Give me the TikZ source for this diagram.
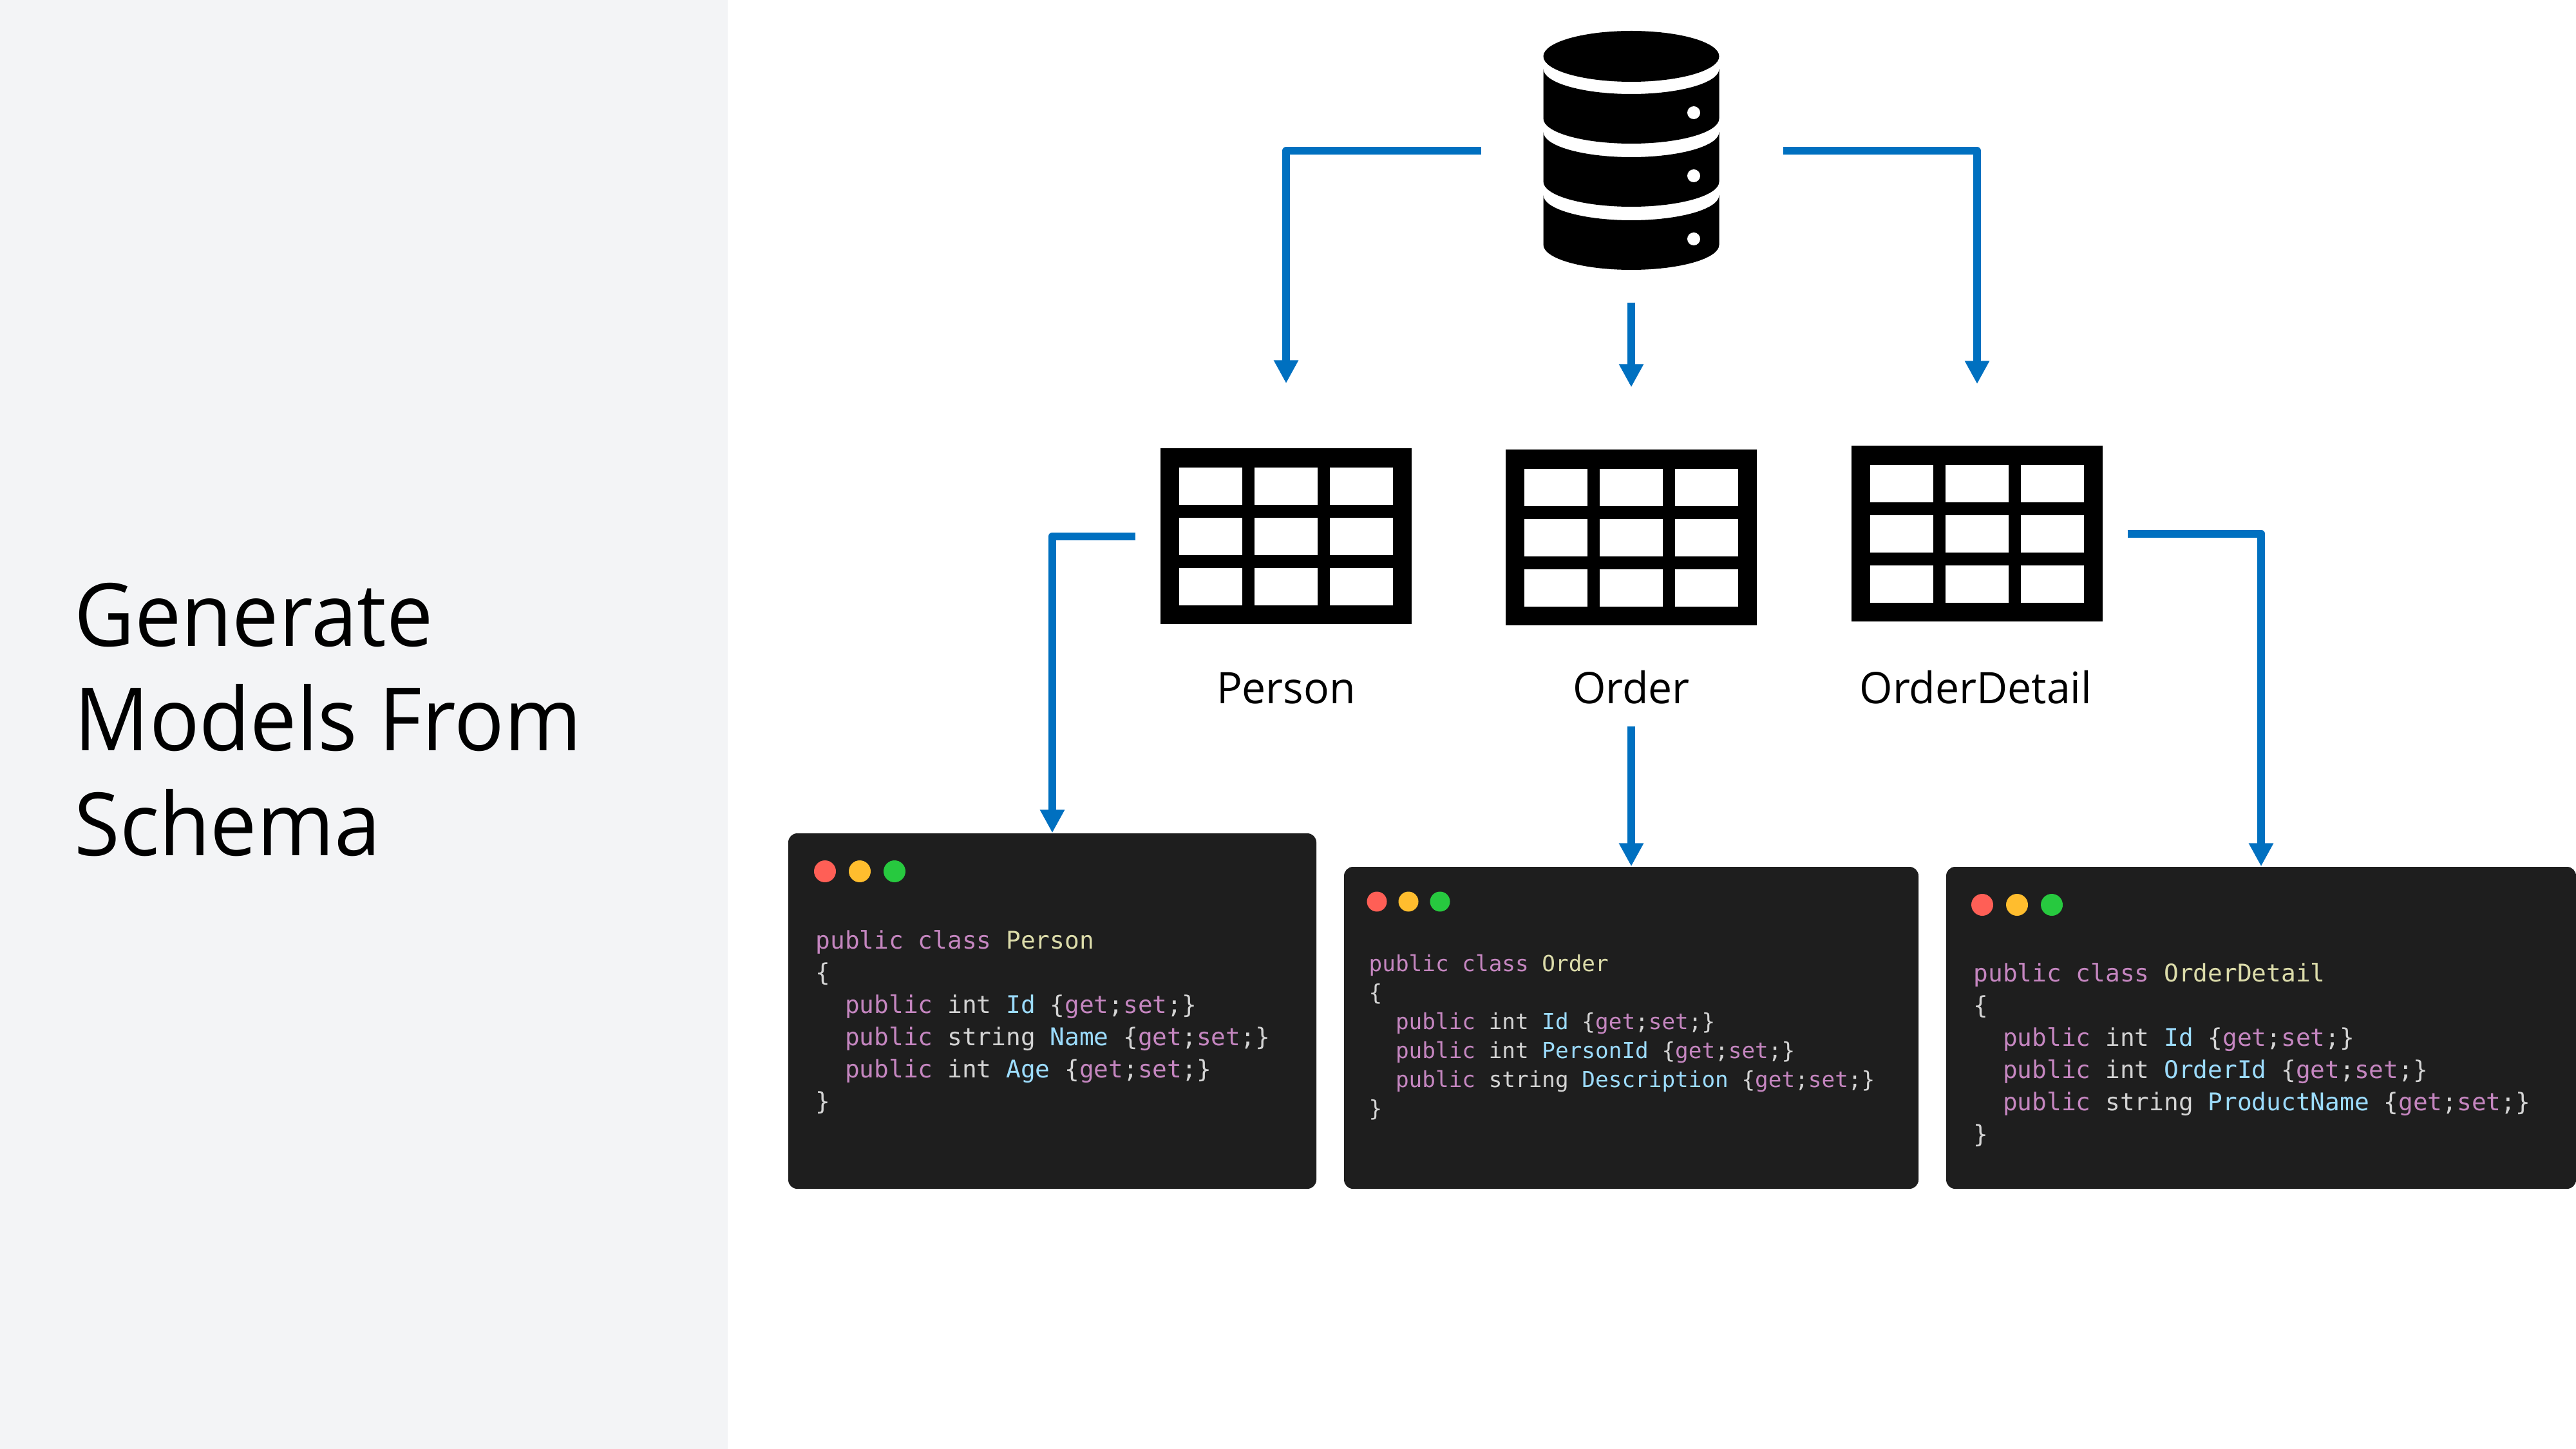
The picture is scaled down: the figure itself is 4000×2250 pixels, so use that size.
\documentclass[tikz,border=0pt]{standalone}
\usepackage{fontspec}
\setmainfont{Open Sans}
\setmonofont{DejaVu Sans Mono}
\newfontfamily\titlefont[FakeStretch=0.95]{Open Sans}
\newfontfamily\labelfont[FakeStretch=0.98]{Open Sans}
\usetikzlibrary{arrows.meta}
\definecolor{panelgray}{HTML}{F3F4F6}
\definecolor{flowblue}{HTML}{0070C0}
\definecolor{carddark}{HTML}{1E1E1E}
\definecolor{codekw}{HTML}{C586C0}
\definecolor{codeplain}{HTML}{D4D4D4}
\definecolor{codeclass}{HTML}{DCDCAA}
\definecolor{codeprop}{HTML}{9CDCFE}
\definecolor{dotred}{HTML}{FF5F56}
\definecolor{dotamber}{HTML}{FFBD2E}
\definecolor{dotgreen}{HTML}{27C93F}
\newcommand{\kw}[1]{\textcolor{codekw}{#1}}
\newcommand{\cls}[1]{\textcolor{codeclass}{#1}}
\newcommand{\prp}[1]{\textcolor{codeprop}{#1}}
\newcommand{\acc}{\{\kw{get};\kw{set};\}}
\tikzset{
  flow/.style={draw=flowblue,line width=1.2mm,line join=round,-{Triangle[length=3.6mm,width=3.6mm]}},
  tbl/.style={fill=black,inner sep=0,minimum width=39mm,minimum height=27.3mm},
  tbllabel/.style={font=\labelfont\fontsize{19.2}{23}\selectfont,anchor=base},
  card/.style={fill=carddark,rounded corners=1.4mm,inner sep=0},
  codetext/.style={anchor=north west,inner sep=0,align=left,text=codeplain},
  codebig/.style={codetext,font=\ttfamily\fontsize{10.75}{14.22}\selectfont},
  codesmall/.style={codetext,font=\ttfamily\fontsize{9.77}{12.8}\selectfont}
}
\begin{document}
\begin{tikzpicture}[x=0.1mm,y=-0.1mm]
      \useasboundingbox (0,0) rectangle (4000,2250);
      \fill [white] (0,0) rectangle (4000,2250);
      \fill [panelgray] (0,0) rectangle (1130,2250);

      \node [anchor=base west,inner sep=0,align=left,font=\titlefont\fontsize{38.6}{46.1}\selectfont]
        (title) at (115,1328) {Generate\\Models From\\Schema};

      % database
      \node [inner sep=0,minimum width=27.3mm,minimum height=37.1mm] (db) at (2533,234.5) {};
      \fill (2533,87.5) ellipse [x radius=136.5,y radius=39.5];
      \foreach \k in {0,98,196} {
        \fill (2396.5,107+\k) arc [start angle=180,end angle=0,x radius=136.5,y radius=39]
          -- (2669.5,184+\k) arc [start angle=0,end angle=180,x radius=136.5,y radius=39] -- cycle;
        \fill [white] (2630,175+\k) circle [radius=10];
      }

      % tables
      \node [tbl] (tblPerson) at (1997,832.5) {};
      \node [tbl] (tblOrder) at (2533,834.5) {};
      \node [tbl] (tblDetail) at (3070,828.5) {};
      \foreach \t in {tblPerson,tblOrder,tblDetail}
        \foreach \i in {-1,0,1}
          \foreach \j in {-1,0,1}
            \fill [white] ([shift={(\i*117-49,\j*78-29)}]\t.center) rectangle ++(98,58);

      \node [tbllabel] (lblPerson) at (1997,1092) {Person};
      \node [tbllabel] (lblOrder) at (2533,1092) {Order};
      \node [tbllabel] (lblDetail) at (3068,1092) {OrderDetail};

      % code cards
      \node [card,minimum width=82mm,minimum height=55.2mm] (cardPerson) at (1634,1570) {};
      \node [card,minimum width=89.2mm,minimum height=50mm] (cardOrder) at (2533,1596) {};
      \node [card,minimum width=97.8mm,minimum height=50mm] (cardDetail) at (3511,1596) {};

      \foreach \c/\y/\a/\b/\d/\r in {cardPerson/1353/1281/1335/1389/1.7,
        cardOrder/1400/2138/2187/2236/1.55, cardDetail/1405/3078/3132/3186/1.7} {
        \fill [dotred] (\a,\y) circle [radius=\r mm];
        \fill [dotamber] (\b,\y) circle [radius=\r mm];
        \fill [dotgreen] (\d,\y) circle [radius=\r mm];
      }

      \node [codebig] (codePerson) at (1266,1444) {\kw{public class} \cls{Person}\\
        \{\\
        ~~\kw{public} int \prp{Id} \acc\\
        ~~\kw{public} string \prp{Name} \acc\\
        ~~\kw{public} int \prp{Age} \acc\\
        \}};
      \node [codesmall] (codeOrder) at (2125,1482) {\kw{public class} \cls{Order}\\
        \{\\
        ~~\kw{public} int \prp{Id} \acc\\
        ~~\kw{public} int \prp{PersonId} \acc\\
        ~~\kw{public} string \prp{Description} \acc\\
        \}};
      \node [codebig] (codeDetail) at (3064,1495) {\kw{public class} \cls{OrderDetail}\\
        \{\\
        ~~\kw{public} int \prp{Id} \acc\\
        ~~\kw{public} int \prp{OrderId} \acc\\
        ~~\kw{public} string \prp{ProductName} \acc\\
        \}};

      % connectors
      \draw [flow,shorten <=9.6mm,shorten >=10mm] (db.west) -| (tblPerson.north);
      \draw [flow,shorten <=4.9mm,shorten >=9.6mm] (db.south) -- (tblOrder.north);
      \draw [flow,shorten <=9.9mm,shorten >=9.5mm] (db.east) -| (tblDetail.north);
      \draw [flow,shorten <=3.8mm] (tblPerson.west) -| (cardPerson.north);
      \draw [flow,shorten <=2.3mm] (lblOrder.south) -- (cardOrder.north);
      \draw [flow,shorten <=3.8mm] (tblDetail.east) -| (cardDetail.north);
\end{tikzpicture}
\end{document}
